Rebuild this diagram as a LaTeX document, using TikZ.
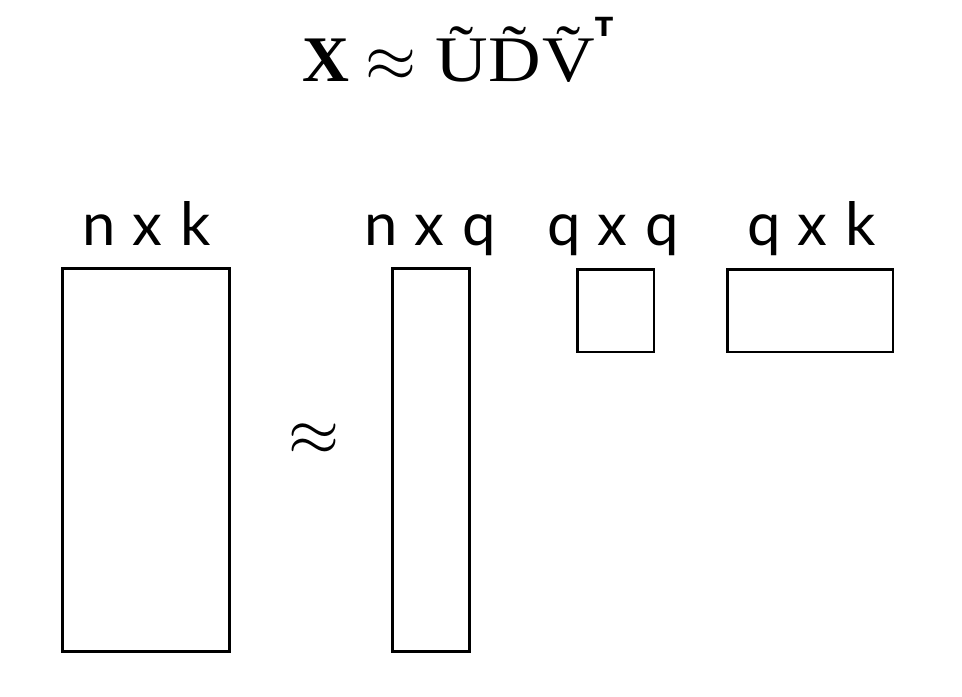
\documentclass[tikz,border=0pt]{standalone}
\usepackage{fontspec}
\setmainfont{Liberation Serif}
\newfontfamily\labelfont{Lato}
\newfontfamily\supfont{DejaVu Sans Bold}
\newcommand\tld[1]{\setbox0\hbox{#1}\hbox to\wd0{\hss\raisebox{0.17em}{\char"02DC}\hss}\kern-\wd0\box0}
\newcommand\bigapprox{\scalebox{1.5}{\fontsize{24}{28}\selectfont$\approx$}}
\newcommand\dims[3]{#1\hspace{9.5pt}#2\hspace{10.5pt}#3}
\begin{document}
\begin{tikzpicture}[x=0.02cm,y=-0.02cm,
  mat/.style={draw=black,line width=1.7pt,inner sep=0pt,outer sep=0pt},
  dimlabel/.style={anchor=base,inner sep=0pt,font=\labelfont\fontsize{34}{36}\selectfont}]
\useasboundingbox (0,0) rectangle (962,696);
\node[anchor=base west,inner sep=0pt,font=\fontsize{37}{40}\selectfont] (title) at (302,82)
  {{\bfseries X}\hspace{9pt}\bigapprox\hspace{11pt}\scalebox{1.12}[1]{\tld{U}\tld{D}\kern1pt\tld{V}}};
\node[anchor=base,inner sep=0pt,font=\supfont\fontsize{15}{16}\selectfont] (sup) at (604,37) {T};
\node[mat,minimum width=3.36cm,minimum height=7.68cm] (X) at (146,460) {};
\node[mat,minimum width=1.54cm,minimum height=7.68cm] (U) at (431,460) {};
\node[mat,minimum width=1.54cm,minimum height=1.66cm] (D) at (615.5,310.5) {};
\node[mat,minimum width=3.32cm,minimum height=1.66cm] (V) at (810,310.5) {};
\node[inner sep=0pt] (approx) at (314,440) {\bigapprox};
\node[dimlabel] (lX) at (146.5,245) {\dims{n}{x}{k}};
\node[dimlabel] (lU) at (430,245) {\dims{n}{x}{q}};
\node[dimlabel] (lD) at (613.5,245) {\dims{q}{x}{q}};
\node[dimlabel] (lV) at (811.5,245) {\dims{q}{x}{k}};
\end{tikzpicture}
\end{document}
